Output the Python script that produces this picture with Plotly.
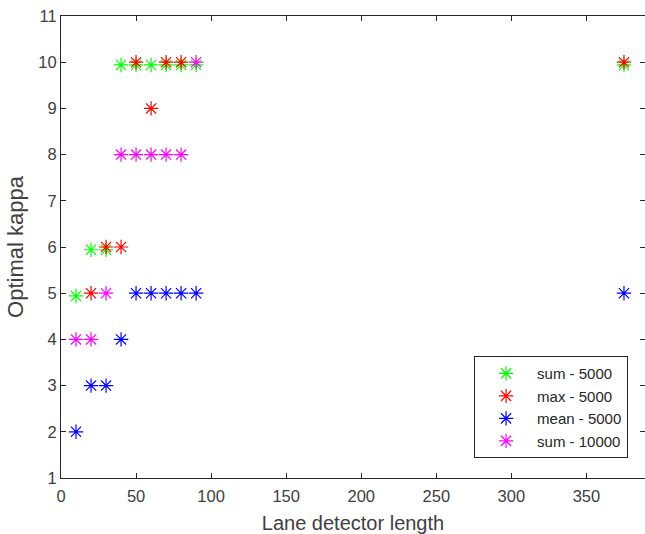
import plotly.graph_objects as go

# Data
sum5000_x = [10, 20, 30, 40, 50, 60, 70, 80, 90, 375]
sum5000_y = [4.94, 5.94, 5.94, 9.94, 9.94, 9.94, 9.94, 9.94, 9.94, 9.94]

max5000_x = [20, 30, 40, 50, 60, 70, 80, 375]
max5000_y = [5, 6, 6, 10, 9, 10, 10, 10]

mean5000_x = [10, 20, 30, 40, 50, 60, 70, 80, 90, 375]
mean5000_y = [2, 3, 3, 4, 5, 5, 5, 5, 5, 5]

sum10000_x = [10, 20, 30, 40, 50, 60, 70, 80, 90]
sum10000_y = [4, 4, 5, 8, 8, 8, 8, 8, 10]

series_names = ["sum - 5000", "max - 5000", "mean - 5000", "sum - 10000"]
series_colors = ["#00ff00", "#ff0000", "#0000ff", "#ff00ff"]

x_ticks = [0, 50, 100, 150, 200, 250, 300, 350]
y_ticks = list(range(1, 12))

FONT = "Liberation Sans, Arial, sans-serif"
AX = "#262626"

fig = go.Figure()
for xs, ys, name, col in zip(
    [sum5000_x, max5000_x, mean5000_x, sum10000_x],
    [sum5000_y, max5000_y, mean5000_y, sum10000_y],
    series_names, series_colors):
    fig.add_trace(go.Scatter(
        x=xs, y=ys, mode="markers", name=name,
        marker=dict(symbol="asterisk-open", size=12, color=col,
                    line=dict(color=col, width=1.2)),
    ))

axis_common = dict(
    showline=True, linecolor=AX, linewidth=1, mirror="ticks",
    ticks="inside", ticklen=5, tickcolor=AX, tickwidth=1,
    showgrid=False, zeroline=False,
    tickfont=dict(family=FONT, size=16.5, color="#404040"),
)

fig.update_layout(
    width=645, height=534,
    margin=dict(l=61, r=0, t=16, b=56),
    paper_bgcolor="white", plot_bgcolor="white",
    font=dict(family=FONT, color="#262626"),
    showlegend=True,
    legend=dict(
        x=0.971, y=0.043, xanchor="right", yanchor="bottom",
        bgcolor="white", bordercolor=AX, borderwidth=1,
        font=dict(family=FONT, size=15, color="#262626"),
        itemwidth=52,
    ),
    xaxis=dict(range=[0, 389], tickvals=x_ticks, ticklabelstandoff=3,
               title=dict(text="Lane detector length", standoff=12,
                          font=dict(family=FONT, size=20, color="#404040")),
               **axis_common),
    yaxis=dict(range=[1, 11], tickvals=y_ticks,
               title=dict(text="Optimal kappa", standoff=8,
                          font=dict(family=FONT, size=22, color="#404040")),
               **axis_common),
)

fig.write_html("out.html", config={"displayModeBar": False},
               post_script="document.body.style.margin='0';")
